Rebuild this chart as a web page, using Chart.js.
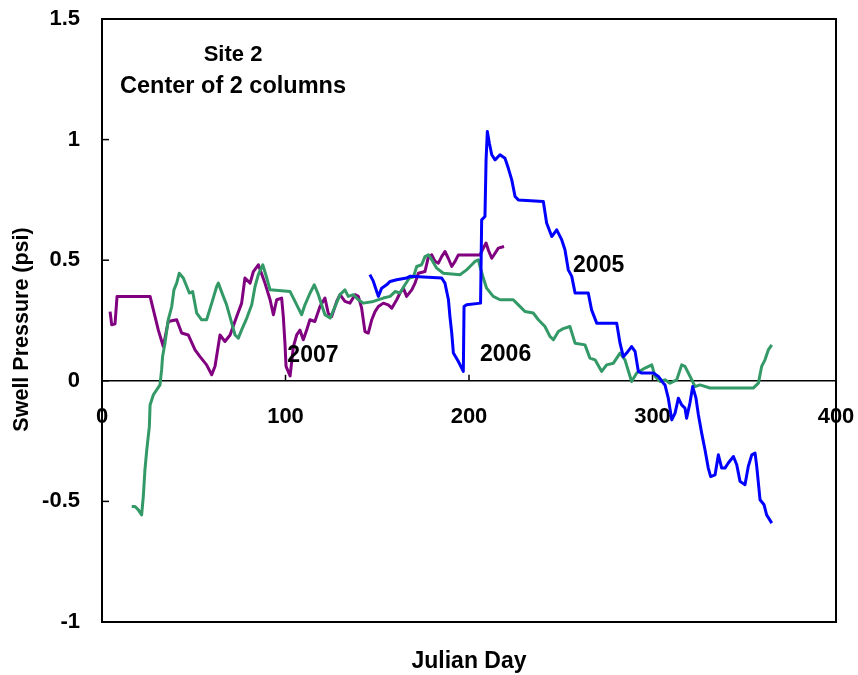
<!DOCTYPE html>
<html>
<head>
<meta charset="utf-8">
<script src="https://cdn.jsdelivr.net/npm/chart.js@4/dist/chart.umd.min.js"></script>
<style>
  html, body { margin: 0; padding: 0; background: #fff; }
  #chart { display: block; }
</style>
</head>
<body>
<canvas id="chart" width="858" height="675"></canvas>
<script>
// swell pressure readings, [julian day, psi]
const year2005 = [
  [146, 0.44], [147.9, 0.412], [149.7, 0.37], [150.6, 0.35], [152.4, 0.384], [155.1, 0.398],
  [157, 0.412], [160.6, 0.419], [166, 0.426], [167.8, 0.433], [185.1, 0.426], [186.9, 0.405],
  [188.8, 0.336], [189.6, 0.267], [190.6, 0.198], [191.5, 0.115], [194.2, 0.08], [196.9, 0.039],
  [197.3, 0.308], [198.7, 0.315], [206.3, 0.322], [206.9, 0.667], [208.7, 0.681], [209.3, 0.916],
  [210, 1.034], [211.1, 0.985], [212.4, 0.937], [214.2, 0.916], [216.9, 0.937], [219.6, 0.923],
  [221.4, 0.882], [223.3, 0.833], [225.1, 0.764], [226.9, 0.75], [240.5, 0.743], [242.3, 0.654],
  [245.1, 0.598], [247.8, 0.626], [250.5, 0.585], [252.3, 0.543], [254.1, 0.46], [256, 0.433],
  [257.8, 0.364], [265, 0.364], [266.8, 0.294], [269.6, 0.239], [280.5, 0.239], [282.3, 0.156],
  [284.1, 0.1], [285.9, 0.115], [288.6, 0.142], [290.5, 0.122], [292.3, 0.039], [294.1, 0.032],
  [300.5, 0.032], [303.2, 0.018], [305.9, -0.01], [306.8, -0.017], [308.6, -0.072], [310.5, -0.162],
  [312.3, -0.134], [314.1, -0.072], [315.9, -0.1], [317.7, -0.113], [318.6, -0.155], [320.4, -0.092],
  [321.9, -0.024], [323.7, -0.072], [325, -0.141], [326.8, -0.217], [328.6, -0.286], [330.4, -0.362],
  [331.7, -0.397], [334.1, -0.39], [335.9, -0.307], [337.7, -0.362], [339.5, -0.362], [341.3, -0.341],
  [344.1, -0.314], [345.9, -0.348], [347.7, -0.417], [350.4, -0.431], [352.2, -0.355], [354.1, -0.307],
  [355.9, -0.3], [356.8, -0.355], [358.6, -0.493], [360.8, -0.514], [362.2, -0.556], [365, -0.59]
];

const year2006 = [
  [16.2, -0.521], [18, -0.521], [19.8, -0.535], [21.6, -0.556], [22.5, -0.48], [23.4, -0.369],
  [24.4, -0.286], [25.8, -0.19], [26.2, -0.1], [28, -0.058], [31.6, -0.017], [32.5, 0.046],
  [33, 0.1], [34.3, 0.156], [36.1, 0.253], [38, 0.308], [39.2, 0.377], [40.7, 0.405],
  [42.1, 0.446], [44.3, 0.426], [45.8, 0.398], [47.6, 0.364], [49.4, 0.37], [51.6, 0.281],
  [54.3, 0.253], [57, 0.253], [59.8, 0.322], [62.5, 0.391], [63.4, 0.405], [66.1, 0.35],
  [67.9, 0.315], [70.7, 0.239], [72.5, 0.19], [74.3, 0.177], [76.1, 0.211], [78.9, 0.26],
  [81.6, 0.315], [83.4, 0.391], [85.2, 0.44], [87.6, 0.481], [89.8, 0.426], [91.6, 0.377],
  [102.5, 0.37], [104.3, 0.343], [107, 0.301], [108.8, 0.274], [110.6, 0.315], [113.4, 0.364],
  [115.7, 0.398], [117.9, 0.357], [119.7, 0.315], [121.5, 0.274], [124.3, 0.26], [127, 0.308],
  [129.7, 0.357], [132.4, 0.377], [134.2, 0.35], [137, 0.357], [139.7, 0.336], [142.4, 0.322],
  [147.9, 0.329], [153.3, 0.343], [157, 0.35], [159.7, 0.37], [162.4, 0.364], [165.1, 0.398],
  [167.5, 0.426], [169.7, 0.43], [171.5, 0.474], [174.2, 0.481], [176, 0.515], [177.9, 0.522],
  [179.7, 0.502], [182.4, 0.467], [186, 0.446], [195.1, 0.44], [198.7, 0.46], [201.5, 0.481],
  [203.3, 0.495], [205.1, 0.502], [206, 0.474], [207.8, 0.426], [209.6, 0.384], [213.2, 0.35],
  [216.9, 0.336], [224.1, 0.336], [226.9, 0.315], [230.5, 0.287], [235, 0.281], [237.8, 0.253],
  [241.4, 0.225], [244.1, 0.184], [246, 0.17], [248.7, 0.204], [251, 0.215], [255, 0.225],
  [257.8, 0.156], [263.2, 0.149], [265.9, 0.094], [268.7, 0.087], [272.3, 0.039], [275, 0.066],
  [278.7, 0.073], [282.3, 0.115], [285, 0.087], [288.6, -0.003], [291.4, 0.032], [295.9, 0.053],
  [299.6, 0.066], [301.4, 0.018], [304.1, -0.003], [306.8, 0.004], [309.5, -0.01], [313.2, 0.004],
  [315.9, 0.066], [317.7, 0.06], [320.5, 0.018], [323.2, -0.024], [325.9, -0.017], [331.3, -0.03],
  [354.9, -0.03], [357.7, -0.01], [359.5, 0.06], [361.3, 0.087], [363.1, 0.128], [365, 0.149]
];

const year2007 = [
  [4.4, 0.287], [5.3, 0.232], [7.1, 0.236], [8.2, 0.35], [26.2, 0.35], [28, 0.294],
  [30.7, 0.21], [33.4, 0.142], [36.1, 0.246], [40.7, 0.253], [43.4, 0.198], [47, 0.19],
  [50.7, 0.128], [53.4, 0.1], [57, 0.066], [59.8, 0.025], [61.6, 0.06], [64.3, 0.19],
  [67, 0.163], [69.8, 0.19], [73.4, 0.267], [76.1, 0.322], [77.9, 0.426], [80.7, 0.405],
  [82.5, 0.453], [85.2, 0.481], [88.8, 0.405], [91.6, 0.336], [93.4, 0.274], [95.2, 0.336],
  [97.9, 0.343], [98.8, 0.267], [99.7, 0.156], [100.3, 0.06], [102.5, 0.02], [104.3, 0.142],
  [106.1, 0.19], [107.9, 0.21], [109.7, 0.17], [111.5, 0.21], [113.3, 0.253], [116, 0.246],
  [118.8, 0.308], [121.5, 0.343], [123.3, 0.28], [125.2, 0.267], [127.9, 0.329], [129.7, 0.357],
  [132.4, 0.329], [135.1, 0.322], [137.9, 0.357], [139.7, 0.35], [141.5, 0.301], [143.3, 0.204],
  [145.1, 0.198], [147, 0.253], [148.8, 0.287], [150.6, 0.308], [153.3, 0.322], [156, 0.315],
  [157.9, 0.301], [160.6, 0.336], [162.4, 0.364], [164.2, 0.384], [166, 0.35], [168.8, 0.377],
  [170.6, 0.405], [172.4, 0.446], [176, 0.453], [177.9, 0.515], [179.7, 0.522], [181.5, 0.495],
  [183.3, 0.488], [185.1, 0.515], [186.9, 0.536], [188.7, 0.508], [190.6, 0.474], [192.4, 0.495],
  [194.2, 0.522], [206, 0.522], [207.8, 0.55], [209.3, 0.571], [210.5, 0.543], [212.4, 0.508],
  [214.2, 0.529], [216, 0.55], [219.1, 0.557]
];

// text placed inside the plot, anchored in data units
const yearNotes = [
  { text: '2007', day: 101, psi: 0.104 },
  { text: '2006', day: 206, psi: 0.108 },
  { text: '2005', day: 256.7, psi: 0.477 }
];
const siteNotes = [
  { text: 'Site 2', day: 71.4, psi: 1.352, size: 22 },
  { text: 'Center of 2 columns', day: 71.4, psi: 1.221, size: 23.5 }
];

const FONT = "'Liberation Sans', Arial, sans-serif";
Chart.defaults.font.family = FONT;
Chart.defaults.color = '#000';

const toPoints = rows => rows.map(r => ({ x: r[0], y: r[1] }));

// keep tick-label overhang from pushing the plot area in
const noOverhang = s => {
  s.paddingTop = 0;
  s.paddingBottom = 0;
  s.paddingLeft = 0;
  s.paddingRight = 0;
};

// frame, inward tick marks and the in-plot labels
const decorations = {
  id: 'decorations',
  afterDatasetsDraw(chart) {
    const { ctx, chartArea: a } = chart;
    const xs = chart.scales.x;
    const ys = chart.scales.y;
    const y0 = ys.getPixelForValue(0);
    ctx.save();
    ctx.strokeStyle = '#000';
    ctx.lineWidth = 1.5;
    ys.ticks.forEach(t => {
      const py = ys.getPixelForValue(t.value);
      ctx.beginPath();
      ctx.moveTo(a.left, py);
      ctx.lineTo(a.left + 7, py);
      ctx.stroke();
    });
    chart.scales.xz.ticks.forEach(t => {
      const px = xs.getPixelForValue(t.value);
      ctx.beginPath();
      ctx.moveTo(px, y0);
      ctx.lineTo(px, y0 - 6);
      ctx.stroke();
    });
    ctx.lineWidth = 2;
    ctx.strokeRect(a.left, a.top, a.right - a.left, a.bottom - a.top);

    ctx.fillStyle = '#000';
    ctx.textBaseline = 'middle';
    ctx.textAlign = 'left';
    ctx.font = 'bold 23px ' + FONT;
    yearNotes.forEach(n => {
      ctx.fillText(n.text, xs.getPixelForValue(n.day), ys.getPixelForValue(n.psi));
    });
    ctx.textAlign = 'center';
    siteNotes.forEach(n => {
      ctx.font = 'bold ' + n.size + 'px ' + FONT;
      ctx.fillText(n.text, xs.getPixelForValue(n.day), ys.getPixelForValue(n.psi));
    });
    ctx.restore();
  }
};

new Chart(document.getElementById('chart'), {
  type: 'scatter',
  data: {
    datasets: [
      { label: '2005', data: toPoints(year2005), borderColor: '#0000ff' },
      { label: '2006', data: toPoints(year2006), borderColor: '#339966' },
      { label: '2007', data: toPoints(year2007), borderColor: '#800080' }
    ].map(d => Object.assign(d, {
      showLine: true,
      pointRadius: 0,
      borderWidth: 3,
      borderJoinStyle: 'round',
      fill: false
    }))
  },
  options: {
    responsive: false,
    animation: false,
    layout: { padding: { left: 0, right: 22, top: 19, bottom: 0 } },
    plugins: {
      legend: { display: false },
      tooltip: { enabled: false }
    },
    scales: {
      x: {
        type: 'linear',
        position: 'bottom',
        min: 0,
        max: 400,
        ticks: { display: false },
        grid: { display: false },
        border: { display: false },
        title: {
          display: true,
          text: 'Julian Day',
          font: { size: 23, weight: 'bold' },
          padding: { top: 5, bottom: 0 }
        },
        afterFit: s => { s.height = 53; noOverhang(s); }
      },
      xz: {
        type: 'linear',
        axis: 'x',
        position: { y: 0 },
        min: 0,
        max: 400,
        ticks: { stepSize: 100, padding: 23, font: { size: 22, weight: 'bold' } },
        grid: { display: false, drawTicks: false },
        border: { display: true, color: '#000', width: 1.5 },
        afterFit: noOverhang
      },
      y: {
        type: 'linear',
        min: -1,
        max: 1.5,
        ticks: {
          stepSize: 0.5,
          padding: 22,
          font: { size: 22, weight: 'bold' },
          callback: v => String(v)
        },
        grid: { display: false, drawTicks: false },
        border: { display: false },
        title: {
          display: true,
          text: 'Swell Pressure (psi)   ',
          font: { size: 21.5, weight: 'bold' },
          padding: { top: 9, bottom: 0 }
        },
        afterFit: s => { s.width = 102; noOverhang(s); }
      }
    }
  },
  plugins: [decorations]
});
</script>
</body>
</html>
